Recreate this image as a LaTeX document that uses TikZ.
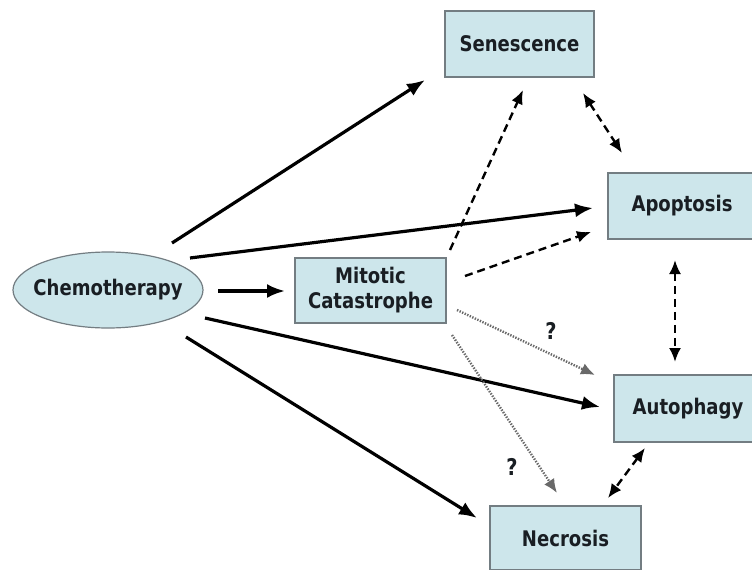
\documentclass[tikz,border=0pt]{standalone}
\usepackage{fontspec}
\setmainfont[FakeStretch=0.84]{DejaVu Sans}
\usetikzlibrary{arrows.meta,shapes.geometric}
\definecolor{boxfill}{RGB}{205,230,235}
\definecolor{boxline}{RGB}{115,125,130}
\definecolor{txt}{RGB}{25,30,35}
\definecolor{dotc}{RGB}{105,105,105}
\begin{document}
\begin{tikzpicture}[x=1pt,y=-1pt,
  every node/.style={font=\fontsize{21.5}{25}\selectfont\bfseries, text=txt},
  statebox/.style={draw=boxline, line width=1.2pt, fill=boxfill, rectangle, inner sep=0pt, align=center},
  solidarr/.style={line width=3.2pt, -{Latex[length=18pt,width=14pt]}},
  dasharr/.style={line width=2.4pt, dash pattern=on 8pt off 5pt, -{Latex[length=14pt,width=12pt]}},
  dashboth/.style={line width=2.4pt, dash pattern=on 8pt off 5pt, {Latex[length=14pt,width=12pt]}-{Latex[length=14pt,width=12pt]}},
  dotarr/.style={line width=2.4pt, draw=dotc, dash pattern=on 1.4pt off 1.4pt, -{Latex[length=14pt,width=12pt]}},
  qmark/.style={font=\fontsize{23}{27}\selectfont\bfseries}
]
\useasboundingbox (0,0) rectangle (752,570);
\node[ellipse, draw=boxline, line width=1.2pt, fill=boxfill, minimum width=190pt, minimum height=76pt, inner xsep=-20pt, inner ysep=0pt] (chemo) at (108,290) {Chemotherapy};
\node[statebox, minimum width=149pt, minimum height=66pt] (sen) at (519.5,44) {Senescence};
\node[statebox, minimum width=148pt, minimum height=66pt] (apo) at (682,206) {Apoptosis};
\node[statebox, minimum width=148pt, minimum height=67pt] (auto) at (688,408.5) {Autophagy};
\node[statebox, minimum width=151pt, minimum height=64pt] (nec) at (565.5,538) {Necrosis};
\node[statebox, minimum width=151pt, minimum height=65pt] (mit) at (370.5,290.5) {Mitotic\\Catastrophe};

% solid arrows from chemotherapy
\draw[solidarr] ([shift={(64,-47)}]chemo.center) -- ([shift={(-94.5,36)}]sen.center);
\draw[solidarr] ([shift={(82,-32)}]chemo.center) -- ([shift={(-89,2)}]apo.center);
\draw[solidarr] ([shift={(110,1)}]chemo.center) -- ([shift={(-85.5,0.5)}]mit.center);
\draw[solidarr] ([shift={(97,28)}]chemo.center) -- ([shift={(-88,-1.5)}]auto.center);
\draw[solidarr] ([shift={(78,47)}]chemo.center) -- ([shift={(-88.5,-20)}]nec.center);

% dashed arrows
\draw[dasharr] ([shift={(79.5,-40.5)}]mit.center) -- ([shift={(3.5,46)}]sen.center);
\draw[dasharr] ([shift={(94.5,-14.5)}]mit.center) -- ([shift={(-91,26)}]apo.center);
\draw[dashboth] ([shift={(63.5,49)}]sen.center) -- ([shift={(-60,-53)}]apo.center);
\draw[dashboth] ([shift={(-7,54)}]apo.center) -- ([shift={(-13,-46.5)}]auto.center);
\draw[dashboth] ([shift={(-43,39.5)}]auto.center) -- ([shift={(42.5,-40)}]nec.center);

% dotted arrows
\draw[dotarr] ([shift={(86.5,19.5)}]mit.center) -- ([shift={(-93,-33.5)}]auto.center);
\draw[dotarr] ([shift={(81.5,44.5)}]mit.center) -- ([shift={(-8.5,-45)}]nec.center);

\node[qmark] (q1) at (551,331) {?};
\node[qmark] (q2) at (512,467) {?};
\end{tikzpicture}
\end{document}
